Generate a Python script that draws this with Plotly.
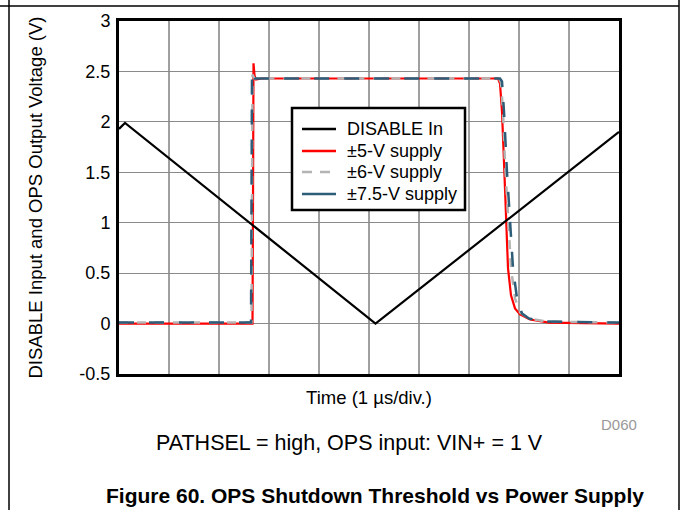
import plotly.graph_objects as go

# ---- data (time in µs, voltage in V) ----
disable_t = [0.0, 0.12, 5.13, 10.0]
disable_v = [1.93, 1.99, 0.0, 1.9]

s5_t = [0.0, 2.67, 2.68, 2.69, 2.71, 2.74, 2.85, 7.58, 7.62, 7.66, 7.70, 7.74, 7.78, 7.84, 7.92, 8.02, 8.22, 8.6, 10.0]
s5_v = [0.0, 0.0, 1.2, 2.58, 2.46, 2.42, 2.43, 2.43, 2.38, 2.1, 1.6, 1.0, 0.55, 0.28, 0.15, 0.09, 0.04, 0.01, 0.0]

s6_t = [0.0, 2.65, 2.66, 2.67, 2.71, 2.78, 7.6, 7.64, 7.68, 7.72, 7.78, 7.84, 7.92, 8.02, 8.2, 8.55, 10.0]
s6_v = [0.01, 0.01, 1.2, 2.47, 2.43, 2.43, 2.43, 2.39, 2.1, 1.6, 1.0, 0.55, 0.25, 0.11, 0.05, 0.02, 0.01]

s75_t = [0.0, 2.64, 2.65, 2.66, 2.72, 2.8, 7.62, 7.66, 7.70, 7.76, 7.82, 7.88, 7.96, 8.06, 8.2, 8.5, 10.0]
s75_v = [0.01, 0.01, 1.2, 2.5, 2.43, 2.43, 2.43, 2.4, 2.1, 1.5, 1.0, 0.55, 0.25, 0.1, 0.05, 0.02, 0.01]

y_ticks = [-0.5, 0, 0.5, 1, 1.5, 2, 2.5, 3]
y_labels = ["-0.5", "0", "0.5", "1", "1.5", "2", "2.5", "3"]
x_grid = list(range(0, 11))

names = ["DISABLE In", "\u00b15-V supply", "\u00b16-V supply", "\u00b17.5-V supply"]
BLUE = "#2d5d78"
GRAY = "#b4b4b4"
RED = "#ff0000"

# plot area in pixels
L, R, T, B = 119, 619, 21, 374
W, H = 683, 510

def px(x):
    return (x - L) / (R - L)

def py(y):
    return (B - y) / (B - T)

fig = go.Figure()

# vertical grid lines (darker)
for g in x_grid[1:-1]:
    fig.add_shape(type="line", x0=g, x1=g, y0=-0.5, y1=3, xref="x", yref="y",
                  line=dict(color="#404040", width=1), layer="below")

fig.add_trace(go.Scatter(x=s5_t, y=s5_v, mode="lines", name=names[1], showlegend=False,
                         line=dict(color=RED, width=2.2)))
fig.add_trace(go.Scatter(x=s6_t, y=s6_v, mode="lines", name=names[2], showlegend=False,
                         line=dict(color=GRAY, width=2.5, dash="dash")))
fig.add_trace(go.Scatter(x=s75_t, y=s75_v, mode="lines", name=names[3], showlegend=False,
                         line=dict(color=BLUE, width=2.5, dash="longdash")))
fig.add_trace(go.Scatter(x=disable_t, y=disable_v, mode="lines", name=names[0], showlegend=False,
                         line=dict(color="black", width=2.2)))

fig.update_xaxes(range=[0, 10], showgrid=False, showticklabels=False, ticks="",
                 zeroline=False, showline=True, mirror=True, linecolor="black",
                 linewidth=3,
                 title=dict(text="Time (1 \u00b5s/div.)", standoff=16,
                            font=dict(size=18.5, color="black")))
fig.update_yaxes(range=[-0.5, 3], tickvals=y_ticks, ticktext=y_labels,
                 showgrid=True, gridcolor="#8a8a8a", gridwidth=1, zeroline=False,
                 showline=True, mirror=True, linecolor="black", linewidth=3,
                 ticks="", ticklabelstandoff=2,
                 tickfont=dict(size=18, color="black"),
                 title=dict(text="DISABLE Input and OPS Output Voltage (V)",
                            standoff=32, font=dict(size=18.5, color="black")))

# page frame lines
shapes = [
    dict(type="line", xref="paper", yref="paper", x0=px(0), x1=px(679), y0=py(6), y1=py(6),
         line=dict(color="black", width=1.5)),
    dict(type="line", xref="paper", yref="paper", x0=px(9), x1=px(9), y0=py(0), y1=py(510),
         line=dict(color="black", width=1.5)),
    dict(type="line", xref="paper", yref="paper", x0=px(679), x1=px(679), y0=py(0), y1=py(510),
         line=dict(color="black", width=1.5)),
]

# hand-drawn legend box
LEG_X0, LEG_X1, LEG_Y0, LEG_Y1 = 292, 465, 108, 210
shapes.append(dict(type="rect", xref="paper", yref="paper",
                   x0=px(LEG_X0), x1=px(LEG_X1), y0=py(LEG_Y1), y1=py(LEG_Y0),
                   fillcolor="white", line=dict(color="black", width=2.5), layer="above"))
row_y = [129, 151, 172, 194]
leg_styles = [dict(color="black", width=2.5),
              dict(color=RED, width=2.5),
              dict(color=GRAY, width=2.5, dash="10px,8px"),
              dict(color=BLUE, width=2.5)]
for yy, st in zip(row_y, leg_styles):
    shapes.append(dict(type="line", xref="paper", yref="paper",
                       x0=px(302), x1=px(336), y0=py(yy), y1=py(yy), line=st, layer="above"))
for s in shapes:
    fig.add_shape(**s)

annotations = [
    dict(text="D060", x=px(619), y=py(424), xref="paper", yref="paper", showarrow=False,
         xanchor="center", yanchor="middle", font=dict(size=15, color="#999999")),
    dict(text="PATHSEL = high, OPS input: VIN+ = 1 V", x=px(349), y=py(443), xref="paper",
         yref="paper", showarrow=False, xanchor="center", yanchor="middle",
         font=dict(size=21.5, color="black")),
    dict(text="<b>Figure 60. OPS Shutdown Threshold vs Power Supply</b>", x=px(375), y=py(495),
         xref="paper", yref="paper", showarrow=False, xanchor="center", yanchor="middle",
         font=dict(size=21, color="black")),
]
for yy, nm in zip(row_y, names):
    annotations.append(dict(text=nm, x=px(345), y=py(yy), xref="paper", yref="paper",
                            showarrow=False, xanchor="left", yanchor="middle",
                            font=dict(size=18, color="black")))
for a in annotations:
    fig.add_annotation(**a)

fig.update_layout(
    width=W, height=H,
    margin=dict(l=L, r=W - R, t=T, b=H - B, pad=0),
    paper_bgcolor="white", plot_bgcolor="white",
    font=dict(family="Liberation Sans, Arial, sans-serif", color="black"),
    showlegend=False,
)

fig.write_html("out.html", config={"displayModeBar": False},
               post_script="document.body.style.margin='0';document.body.style.overflow='hidden';")
